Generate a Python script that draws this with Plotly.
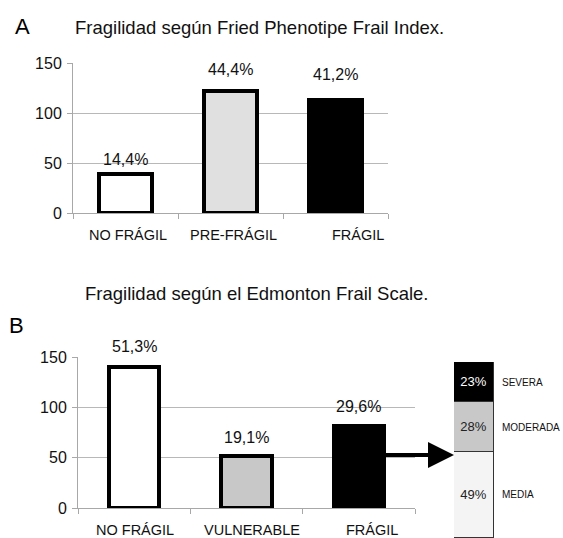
import plotly.graph_objects as go

W, H = 563, 538

# ---------------- data ----------------
a_title = "Fragilidad según Fried Phenotipe Frail Index."
a_categories = ["NO FRÁGIL", "PRE-FRÁGIL", "FRÁGIL"]
a_values = [39, 122, 113]
a_labels = ["14,4%", "44,4%", "41,2%"]

b_title = "Fragilidad según el Edmonton Frail Scale."
b_categories = ["NO FRÁGIL", "VULNERABLE", "FRÁGIL"]
b_values = [140, 52, 81]
b_labels = ["51,3%", "19,1%", "29,6%"]

sev_categories = ["MEDIA", "MODERADA", "SEVERA"]
sev_values = [49, 28, 23]
sev_labels = ["49%", "28%", "23%"]

y_ticks = [0, 50, 100, 150]

# ---------------- styles ----------------
FONT = "Liberation Sans, Arial, Helvetica, sans-serif"
AXIS_GRAY = "#a8a8a8"
GRID_GRAY = "#b8b8b8"
a_colors = ["#ffffff", "#e0e0e0", "#000000"]
b_colors = ["#ffffff", "#c8c8c8", "#000000"]
sev_colors = ["#f4f4f4", "#c8c8c8", "#000000"]
sev_text_colors = ["#222222", "#222222", "#ffffff"]
a_pct_dy = [15, 22, 26]
b_pct_dy = [21, 18, 20]
a_cat_dx = [2, 2.5, 22]
b_cat_dx = [1, 5, 13.5]
A_BAR_W = 0.5
B_BAR_W = 0.45


def px_x(p):
    return p / W


def px_y(p):
    return 1 - p / H


A_X = [px_x(73), px_x(388)]
A_Y = [px_y(213), px_y(63)]
B_X = [px_x(78), px_x(415)]
B_Y = [px_y(508), px_y(357)]
S_X = [px_x(454), px_x(494)]
S_Y = [0, px_y(362)]

fig = go.Figure()

fig.add_trace(go.Bar(
    x=a_categories, y=a_values, width=A_BAR_W,
    marker=dict(color=a_colors, line=dict(color="#000000", width=4.5)),
    xaxis="x", yaxis="y", showlegend=False, hoverinfo="skip"))

fig.add_trace(go.Bar(
    x=b_categories, y=b_values, width=B_BAR_W,
    marker=dict(color=b_colors, line=dict(color="#000000", width=4.5)),
    xaxis="x2", yaxis="y2", showlegend=False, hoverinfo="skip"))

for name, v, lab, col, tcol in zip(sev_categories, sev_values, sev_labels,
                                   sev_colors, sev_text_colors):
    fig.add_trace(go.Bar(
        x=["FRÁGIL"], y=[v], width=1, name=name,
        text=[lab], textposition="inside", insidetextanchor="middle",
        textangle=0, constraintext="none",
        textfont=dict(family=FONT, size=13, color=tcol),
        marker=dict(color=col, line=dict(color="#333333", width=1)),
        xaxis="x3", yaxis="y3", showlegend=False, hoverinfo="skip"))

common_x = dict(type="category", showline=True, linecolor=AXIS_GRAY, linewidth=1,
                ticks="outside", tickson="boundaries", ticklen=5,
                tickcolor=AXIS_GRAY, showticklabels=False, showgrid=False,
                range=[-0.5, 2.5], fixedrange=True, zeroline=False,
                automargin=False)
common_y = dict(range=[0, 150], tickvals=y_ticks, showline=True,
                linecolor=AXIS_GRAY, linewidth=1, ticks="outside", ticklen=5,
                tickcolor=AXIS_GRAY, showgrid=True, gridcolor=GRID_GRAY,
                gridwidth=1, zeroline=False, fixedrange=True,
                tickfont=dict(family=FONT, size=16, color="#111111"),
                ticklabelstandoff=2, automargin=False)

fig.update_layout(
    width=W, height=H,
    margin=dict(l=0, r=0, t=0, b=0, pad=0, autoexpand=False),
    paper_bgcolor="white", plot_bgcolor="white",
    barmode="stack", bargap=0,
    font=dict(family=FONT, color="#111111"),
    xaxis=dict(domain=A_X, anchor="y", **common_x),
    yaxis=dict(domain=A_Y, anchor="x", **common_y),
    xaxis2=dict(domain=B_X, anchor="y2", **common_x),
    yaxis2=dict(domain=B_Y, anchor="x2", **common_y),
    xaxis3=dict(domain=S_X, anchor="y3", type="category", visible=False,
                range=[-0.5, 0.5], fixedrange=True, automargin=False),
    yaxis3=dict(domain=S_Y, anchor="x3", range=[0, 100], visible=False,
                fixedrange=True, automargin=False),
)

ann = []
# panel letters and titles
ann.append(dict(text="A", x=px_x(13), y=px_y(27), xref="paper", yref="paper",
                xanchor="left", yanchor="middle", showarrow=False,
                font=dict(family=FONT, size=22, color="#000")))
ann.append(dict(text=a_title, x=px_x(73), y=px_y(27.5), xref="paper", yref="paper",
                xanchor="left", yanchor="middle", showarrow=False,
                font=dict(family=FONT, size=18.5, color="#111")))
ann.append(dict(text="B", x=px_x(7), y=px_y(325), xref="paper", yref="paper",
                xanchor="left", yanchor="middle", showarrow=False,
                font=dict(family=FONT, size=22, color="#000")))
ann.append(dict(text=b_title, x=px_x(83), y=px_y(293), xref="paper", yref="paper",
                xanchor="left", yanchor="middle", showarrow=False,
                font=dict(family=FONT, size=18.5, color="#111")))

# category labels and percentage labels
for axx, axy, cats, vals, labs, dys, dxs in [
        ("x", "y", a_categories, a_values, a_labels, a_pct_dy, a_cat_dx),
        ("x2", "y2", b_categories, b_values, b_labels, b_pct_dy, b_cat_dx)]:
    for c, v, l, dy, dx in zip(cats, vals, labs, dys, dxs):
        ann.append(dict(text=c, x=c, xref=axx, y=0, yref=axy + " domain",
                        xanchor="center", yanchor="middle", yshift=-22, xshift=dx,
                        showarrow=False, font=dict(family=FONT, size=14.5, color="#111")))
        ann.append(dict(text=l, x=c, xref=axx, y=v, yref=axy,
                        xanchor="center", yanchor="middle", yshift=dy,
                        showarrow=False, font=dict(family=FONT, size=16, color="#111")))

# severity labels to the right of the stacked bar
cum = 0
for name, v in zip(sev_categories, sev_values):
    ann.append(dict(text=name, x=1, xref="x3 domain", y=cum + v / 2, yref="y3",
                    xanchor="left", yanchor="middle", xshift=6, showarrow=False,
                    font=dict(family=FONT, size=10, color="#111")))
    cum += v

# arrow from the FRÁGIL bar to the stacked bar (in x2/y2 domain fractions)
tail_frac = (2 + B_BAR_W / 2 + 0.5) / 3
tip_frac = (S_X[0] - B_X[0]) / (B_X[1] - B_X[0])
arrow_yfrac = (508 - 455) / (508 - 357)
ann.append(dict(text="", x=tip_frac, y=arrow_yfrac, xref="x2 domain", yref="y2 domain",
                ax=tail_frac, ay=arrow_yfrac, axref="x2 domain", ayref="y2 domain",
                showarrow=True, arrowhead=2, arrowwidth=4, arrowsize=1.3,
                arrowcolor="#000", standoff=0, startstandoff=0))

fig.update_layout(annotations=ann)
fig.write_html("out.html",
               config={"displayModeBar": False},
               post_script="document.body.style.margin='0';document.body.style.overflow='hidden';")
